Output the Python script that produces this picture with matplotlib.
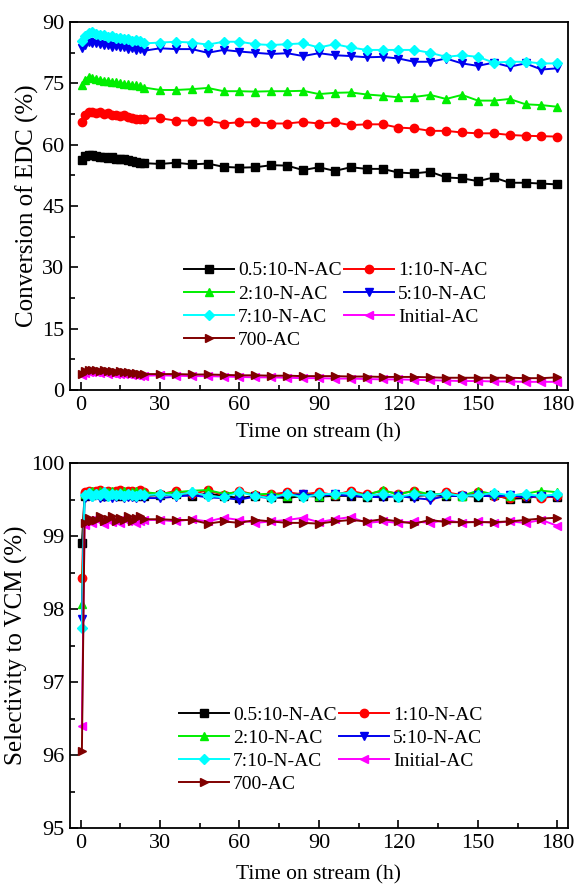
import matplotlib
matplotlib.use("Agg")
import matplotlib.pyplot as plt
from matplotlib.ticker import MultipleLocator

plt.rcParams['font.family'] = ['Liberation Serif', 'DejaVu Serif']

# time on stream (h): dense sampling for the first day, then every 6 h
t_dense = [0.5, 1.5, 3, 4.5, 6, 7.5, 9, 10.5, 12, 13.5, 15, 16.5, 18, 19.5, 21, 22.5, 24]
t_sparse = [30, 36, 42, 48, 54, 60, 66, 72, 78, 84, 90, 96, 102, 108, 114, 120,
            126, 132, 138, 144, 150, 156, 162, 168, 174, 180]
time = t_dense + t_sparse

labels = ['0.5:10-N-AC', '1:10-N-AC', '2:10-N-AC', '5:10-N-AC',
          '7:10-N-AC', 'Initial-AC', '700-AC']
colors = ['black', 'red', '#00ee00', '#0000ee', 'cyan', 'magenta', '#800000']
markers = ['s', 'o', '^', 'v', 'D', '<', '>']

# conversion of EDC (%)
conv_05 = [56.3, 57.2, 57.6, 57.4, 57.3, 57.1, 57.0, 56.8, 56.9, 56.6, 56.5, 56.4, 56.2, 56.0, 55.8, 55.6, 55.5,
           55.3, 55.6, 55.2, 55.4, 54.6, 54.4, 54.5, 55.0, 54.9, 53.8, 54.5, 53.6, 54.5, 54.1, 54.1, 53.2,
           53.0, 53.4, 52.0, 51.8, 51.1, 52.0, 50.7, 50.7, 50.5, 50.3]
conv_1 = [65.6, 67.2, 67.9, 68.1, 67.8, 67.9, 67.6, 67.7, 67.4, 67.3, 67.1, 67.2, 66.8, 66.6, 66.4, 66.3, 66.4,
          66.5, 65.9, 65.9, 65.9, 65.2, 65.5, 65.5, 65.2, 65.2, 65.6, 65.2, 65.5, 64.8, 65.0, 65.0, 64.2,
          64.0, 63.4, 63.4, 63.0, 62.8, 62.8, 62.4, 62.2, 62.1, 62.0]
conv_2 = [74.6, 75.8, 76.6, 76.3, 76.0, 75.9, 75.6, 75.7, 75.3, 75.4, 75.0, 74.9, 74.8, 74.6, 74.5, 74.3, 74.0,
          73.4, 73.4, 73.6, 73.9, 73.1, 73.1, 73.0, 73.1, 73.1, 73.2, 72.4, 72.7, 72.8, 72.3, 72.0, 71.6,
          71.7, 72.2, 71.2, 72.2, 70.8, 70.8, 71.2, 69.9, 69.7, 69.3]
conv_5 = [83.6, 84.5, 85.2, 84.9, 85.0, 84.6, 84.3, 84.5, 84.0, 84.2, 83.8, 83.9, 83.5, 83.6, 83.2, 83.4, 83.0,
          83.6, 83.4, 83.4, 82.5, 83.2, 82.8, 82.5, 82.2, 82.4, 81.7, 82.4, 81.9, 81.7, 81.4, 81.5, 81.1,
          80.3, 80.3, 81.1, 79.9, 79.3, 80.1, 79.1, 79.9, 78.4, 78.7]
conv_7 = [85.5, 86.6, 87.4, 87.6, 87.0, 86.8, 86.9, 86.4, 86.5, 86.0, 86.2, 85.8, 85.9, 85.5, 85.7, 85.3, 84.8,
          85.0, 85.2, 85.0, 84.5, 85.2, 85.2, 84.6, 84.4, 84.6, 84.8, 83.8, 84.6, 83.8, 83.2, 83.2, 83.2,
          83.2, 82.5, 81.5, 81.9, 81.5, 80.1, 80.3, 80.3, 79.9, 79.9]
conv_init = [3.6, 4.1, 4.4, 4.5, 4.3, 4.2, 4.3, 4.0, 4.1, 3.9, 4.0, 3.8, 3.9, 3.7, 3.6, 3.5, 3.5,
             3.6, 3.5, 3.4, 3.4, 3.3, 3.2, 3.1, 3.1, 3.0, 2.9, 2.9, 2.8, 2.8, 2.7, 2.6, 2.6,
             2.5, 2.4, 2.3, 2.2, 2.2, 2.1, 2.1, 2.0, 2.0, 2.0]
conv_700 = [4.0, 4.6, 4.9, 5.0, 4.8, 4.7, 4.9, 4.6, 4.7, 4.5, 4.6, 4.4, 4.5, 4.2, 4.1, 4.0, 3.9,
            3.9, 3.9, 3.8, 3.8, 3.7, 3.6, 3.6, 3.5, 3.5, 3.4, 3.4, 3.4, 3.3, 3.3, 3.2, 3.2,
            3.2, 3.1, 3.0, 3.0, 3.0, 3.0, 3.0, 2.9, 2.9, 3.1]

# selectivity to VCM (%)
sel_05 = [98.9, 99.55, 99.58, 99.56, 99.6, 99.57, 99.55, 99.58, 99.56, 99.57, 99.55, 99.58, 99.56, 99.57, 99.55, 99.58, 99.55,
          99.56, 99.57, 99.55, 99.58, 99.55, 99.52, 99.55, 99.53, 99.52, 99.55, 99.54, 99.55, 99.55, 99.53, 99.55, 99.54,
          99.55, 99.56, 99.55, 99.55, 99.54, 99.56, 99.51, 99.52, 99.55, 99.53]
sel_1 = [98.42, 99.6, 99.62, 99.6, 99.61, 99.63, 99.6, 99.62, 99.6, 99.61, 99.63, 99.6, 99.62, 99.61, 99.6, 99.63, 99.6,
         99.57, 99.62, 99.57, 99.63, 99.56, 99.62, 99.56, 99.57, 99.6, 99.57, 99.6, 99.56, 99.62, 99.57, 99.62, 99.58,
         99.62, 99.54, 99.6, 99.56, 99.6, 99.55, 99.52, 99.55, 99.52, 99.55]
sel_2 = [98.07, 99.58, 99.6, 99.62, 99.59, 99.61, 99.58, 99.6, 99.62, 99.59, 99.6, 99.61, 99.58, 99.6, 99.62, 99.59, 99.6,
         99.58, 99.6, 99.62, 99.63, 99.58, 99.6, 99.57, 99.58, 99.55, 99.58, 99.55, 99.57, 99.6, 99.56, 99.63, 99.57,
         99.62, 99.57, 99.58, 99.55, 99.62, 99.57, 99.55, 99.58, 99.62, 99.6]
sel_5 = [97.86, 99.52, 99.55, 99.53, 99.56, 99.52, 99.54, 99.55, 99.52, 99.53, 99.55, 99.52, 99.54, 99.53, 99.52, 99.55, 99.52,
         99.52, 99.54, 99.56, 99.53, 99.52, 99.5, 99.54, 99.52, 99.56, 99.57, 99.55, 99.57, 99.55, 99.54, 99.53, 99.55,
         99.52, 99.5, 99.55, 99.55, 99.56, 99.54, 99.56, 99.53, 99.55, 99.54]
sel_7 = [97.74, 99.56, 99.59, 99.55, 99.58, 99.56, 99.6, 99.55, 99.58, 99.56, 99.57, 99.55, 99.58, 99.56, 99.55, 99.58, 99.56,
         99.57, 99.56, 99.6, 99.55, 99.53, 99.6, 99.55, 99.52, 99.58, 99.53, 99.57, 99.58, 99.59, 99.55, 99.58, 99.54,
         99.57, 99.56, 99.58, 99.55, 99.56, 99.59, 99.56, 99.57, 99.55, 99.57]
sel_init = [96.4, 99.15, 99.22, 99.18, 99.25, 99.2, 99.17, 99.24, 99.19, 99.22, 99.18, 99.25, 99.2, 99.23, 99.18, 99.2, 99.22,
            99.22, 99.2, 99.23, 99.2, 99.25, 99.22, 99.18, 99.2, 99.22, 99.25, 99.19, 99.23, 99.26, 99.18, 99.2, 99.18,
            99.2, 99.18, 99.22, 99.18, 99.2, 99.18, 99.2, 99.18, 99.22, 99.14]
sel_700 = [96.06, 99.18, 99.25, 99.2, 99.22, 99.28, 99.2, 99.24, 99.27, 99.2, 99.25, 99.22, 99.28, 99.21, 99.25, 99.28, 99.23,
           99.23, 99.22, 99.22, 99.17, 99.2, 99.18, 99.22, 99.2, 99.18, 99.18, 99.17, 99.2, 99.22, 99.2, 99.23, 99.2,
           99.17, 99.22, 99.19, 99.19, 99.19, 99.19, 99.2, 99.22, 99.24, 99.25]

conv = [conv_05, conv_1, conv_2, conv_5, conv_7, conv_init, conv_700]
sel = [sel_05, sel_1, sel_2, sel_5, sel_7, sel_init, sel_700]

fig = plt.figure(figsize=(5.75, 8.85), dpi=100)
ax1 = fig.add_axes([0.1217, 0.5593, 0.866, 0.4157])
ax2 = fig.add_axes([0.1217, 0.0644, 0.866, 0.4124])

# legend entries are laid out row by row in the reference
leg_order = [0, 2, 4, 6, 1, 3, 5]


def style(ax, xpad):
    for s in ax.spines.values():
        s.set_linewidth(1.3)
    ax.tick_params(which='both', direction='in', top=False, right=False,
                   labelsize=16, width=1.2, pad=4)
    ax.tick_params(which='major', length=6)
    ax.tick_params(which='minor', length=3.5)
    ax.set_xlim(-4, 184)
    ax.xaxis.set_major_locator(MultipleLocator(30))
    ax.xaxis.set_minor_locator(MultipleLocator(15))
    ax.set_xlabel('Time on stream (h)', fontsize=15.5, labelpad=xpad)


def add_legend(ax, anchor):
    h, l = ax.get_legend_handles_labels()
    ax.legend([h[i] for i in leg_order], [l[i] for i in leg_order], ncol=2,
              loc='upper left', bbox_to_anchor=anchor, frameon=False,
              fontsize=14, handlelength=2.6, handletextpad=0.2, columnspacing=0.1,
              labelspacing=0.28, borderpad=0.1)


for ax, data, xpad in [(ax1, conv, 6), (ax2, sel, 9)]:
    for y, lab, c, m in zip(data, labels, colors, markers):
        ms = 5 if m == 'D' else 6
        ax.plot(time, y, color=c, marker=m, markersize=ms, linewidth=1.4, label=lab)
    style(ax, xpad)

ax1.set_ylim(0, 90)
ax1.yaxis.set_major_locator(MultipleLocator(15))
ax1.yaxis.set_minor_locator(MultipleLocator(7.5))
ax1.set_ylabel('Conversion of EDC (%)', fontsize=18, labelpad=2)
add_legend(ax1, (0.205, 0.38))

ax2.set_ylim(95, 100)
ax2.yaxis.set_major_locator(MultipleLocator(1))
ax2.yaxis.set_minor_locator(MultipleLocator(0.5))
ax2.set_ylabel('Selectivity to VCM (%)', fontsize=18, labelpad=2)
add_legend(ax2, (0.195, 0.365))

fig.savefig('out.png', dpi=100)
